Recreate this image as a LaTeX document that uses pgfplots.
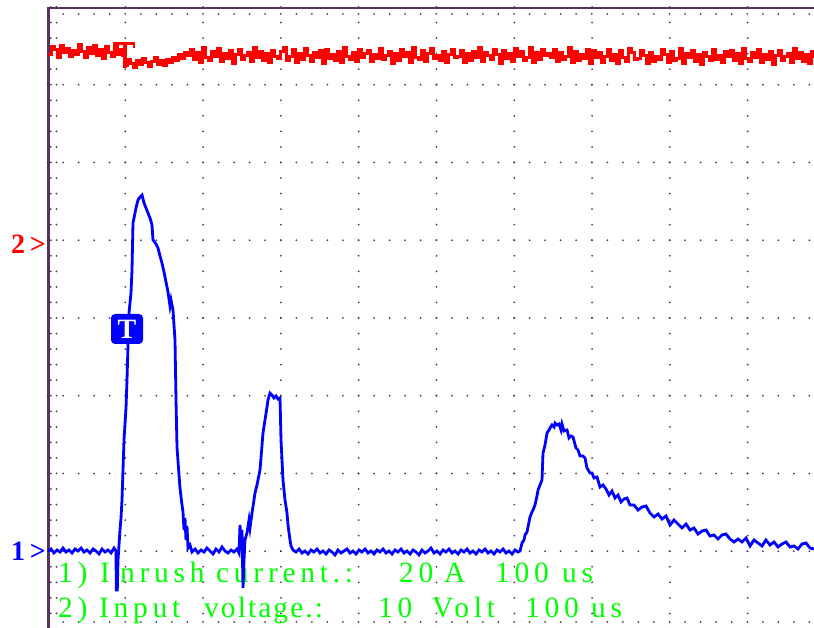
\documentclass[border=0pt]{standalone}
\usepackage{pgfplots}
\pgfplotsset{compat=1.18}
\usepackage{fontspec}
\setmainfont{Liberation Serif}
\newfontfamily\scopefont[LetterSpace=16]{Liberation Serif}
\newfontfamily\scopefontn[LetterSpace=7]{Liberation Serif}
\definecolor{grat}{RGB}{80,55,85}
\definecolor{frame}{RGB}{88,50,92}
\definecolor{scred}{RGB}{255,0,0}
\definecolor{scblue}{RGB}{0,0,255}
\definecolor{scgreen}{RGB}{0,255,0}
\begin{document}
\begin{tikzpicture}
\tikzset{dots/.style={grat, line width=2pt, line cap=round, dash pattern=on 0pt off 15.55pt}}
\begin{scope}[x=1pt, y=-1pt, shift={(-47.5pt,629pt)}]
  % graticule
  \foreach \k in {1,...,7} \draw[dots] (47.5,{7+77.75*\k}) -- (814,{7+77.75*\k});
  \foreach \k in {1,...,9} \draw[dots] ({47.5+77.8*\k},7) -- ({47.5+77.8*\k},629);
  \draw[dots] (50.8,7) -- (50.8,629);
  \draw[dots] (56.5,7) -- (56.5,629);
  \draw[dots] (47.5,14) -- (814,14);
  \draw[dots] (47.5,622) -- (814,622);
  \draw[frame, line width=3pt] (48.3,640) -- (48.3,6.7);
  \draw[frame, line width=2.3pt] (46.8,7.8) -- (830,7.8);
  % channel markers
  \node[anchor=base west, inner sep=0pt, text=scred, font=\fontsize{28}{32}\selectfont\bfseries] at (11,254) {2\,>};
  \node[anchor=base west, inner sep=0pt, text=scblue, font=\fontsize{28}{32}\selectfont\bfseries] at (11,561) {1\,>};
  % green text
  \begin{scope}[every node/.style={anchor=base west, inner sep=0pt, text=scgreen, font=\fontsize{29.5}{34}\scopefont}]
    \node at (58,582.5) {1)};
    \node at (100,582.5) {I};
    \node at (120,582.5) {nrush};
    \node at (216,582.5) {current.:};
    \node at (399,582.5) {20};
    \node at (444,582.5) {A};
    \node at (495,582.5) {100};
    \node at (562,582.5) {us};
    \node at (58,618) {2)};
    \node at (99,618) {Input};
    \node[font=\fontsize{29.5}{34}\scopefontn] at (204,618) {voltage.:};
    \node at (378,618) {10};
    \node at (432,618) {Volt};
    \node at (525,618) {100};
    \node at (591,618) {us};
  \end{scope}
\end{scope}
\begin{axis}[at={(0,0)}, anchor=south west, scale only axis, width=766.5pt, height=622pt,
  xmin=47.5, xmax=814, ymin=7, ymax=629, y dir=reverse, hide axis, clip=true]
\addplot[scred, line width=3pt, const plot, line join=miter] coordinates {
(48,55)(51,47)(54,50)(57,58)(60,46)(63,53)(66,49)(69,57)(72,51)(75,55)(78,45)(81,52)(84,58)(87,48)(90,54)(93,46)(96,56)(99,50)(102,59)(105,47)(108,53)(111,57)(114,45)(117,55)(120,50)(122,56)
(124,66)(127,60)(130,64)(133,68)(136,61)(139,65)(142,59)(145,63)(148,67)(151,62)(154,58)(157,65)(160,61)(163,66)(166,60)(169,63)(172,58)(175,61)(178,55)(181,59)(184,53)
(187,56)(190,50)(193,60)(196,53)(199,63)(202,48)(205,58)(208,61)(211,52)(214,57)(217,49)(220,62)(223,54)(226,59)(229,51)(232,64)(235,55)(238,50)(241,60)(244,56)(247,53)(250,62)(253,48)(256,58)(259,52)(262,61)(265,54)(268,63)(271,51)(274,57)
(277,59)(280,52)(283,48)(286,61)(289,57)(292,50)(295,63)(298,54)(301,60)(304,49)(307,56)(310,62)(313,53)(316,58)(319,51)(322,64)(325,50)(328,59)(331,55)(334,61)(337,52)(340,63)(343,48)(346,57)(349,60)(352,53)(355,62)(358,50)(361,58)(364,54)
(367,51)(370,62)(373,55)(376,59)(379,49)(382,60)(385,56)(388,52)(391,64)(394,54)(397,61)(400,50)(403,57)(406,53)(409,63)(412,48)(415,58)(418,60)(421,51)(424,62)(427,54)(430,49)(433,59)(436,56)(439,61)(442,52)(445,63)(448,55)(451,50)(454,58)
(457,57)(460,51)(463,63)(466,54)(469,61)(472,52)(475,58)(478,48)(481,62)(484,53)(487,56)(490,60)(493,50)(496,55)(499,64)(502,51)(505,59)(508,54)(511,62)(514,49)(517,57)(520,52)(523,61)(526,58)(529,48)(532,63)(535,53)(538,60)(541,50)(544,56)
(547,54)(550,58)(553,50)(556,62)(559,53)(562,60)(565,57)(568,48)(571,63)(574,52)(577,61)(580,55)(583,59)(586,50)(589,64)(592,51)(595,58)(598,53)(601,63)(604,57)(607,50)(610,61)(613,55)(616,64)(619,51)(622,58)(625,62)(628,49)(631,53)(634,60)
(637,59)(640,51)(643,56)(646,64)(649,53)(652,62)(655,57)(658,60)(661,50)(664,55)(667,63)(670,52)(673,61)(676,59)(679,49)(682,64)(685,54)(688,58)(691,51)(694,62)(697,55)(700,65)(703,53)(706,57)(709,61)(712,50)(715,60)(718,56)(721,63)(724,52)
(727,57)(730,51)(733,61)(736,54)(739,64)(742,49)(745,59)(748,62)(751,53)(754,58)(757,50)(760,63)(763,55)(766,60)(769,52)(772,65)(775,56)(778,51)(781,61)(784,57)(787,54)(790,63)(793,49)(796,59)(799,53)(802,62)(805,55)(808,64)(811,52)(814,58)
};
\addplot[scblue, line width=2.8pt] coordinates {
(48,551)(51,549)(54,553)(57,550)(60,552)(63,548)(66,552)(69,550)(72,553)(75,549)(78,551)(81,548)(84,552)(87,550)(90,553)(93,549)(96,551)(99,554)(102,549)(105,552)(108,550)(111,553)(114,548)(116,551)
(116.3,590)(117.3,590)(118,560)(120,530)(121,518)(122,500)(123,470)(124,440)(126,408)(127,380)(128,345)(129,313)(131,293)(132,270)(133,223)(135,213)(136,208)(138,200)(140,197)(142,195)(144,203)(146,208)(148,213)(150,218)(152,225)(153,240)(156,244)(158,248)(160,256)(162,263)(164,272)(166,282)(168,292)(170,306)(171,300)(173,310)(175,340)(176,400)(177,447)(179,475)(180,488)(182,505)(183,512)(184,530)(185,518)(186,540)(187,526)(188,548)(190,545)(192,552)
(195,549)(198,553)(201,550)(204,552)(207,548)(210,551)(213,554)(216,549)(219,552)(222,547)(225,551)(228,553)(231,550)(234,552)(237,549)(239,553)
(240,525)(241,545)(242,530)(243,588)(244,560)(245,540)(247,533)(249,520)(250,528)(252,513)(254,500)(255,493)(257,485)(258,480)(260,470)(261,458)(263,433)(265,420)(267,407)(268,400)(270,393)(272,395)(274,398)(276,396)(278,399)(280,398)(281,440)(283,480)(285,500)(287,513)(288,525)(290,540)(291,546)(293,550)
(296,552)(299,549)(302,553)(305,551)(308,554)(311,550)(314,552)(317,549)(320,553)(323,551)(326,554)(329,550)(332,552)(335,555)(338,550)(341,553)(344,551)(347,549)(350,553)(353,551)(356,554)(359,550)(362,552)(365,549)(368,553)(371,551)(374,554)(377,550)(380,552)(383,549)(386,553)(389,551)(392,554)(395,550)(398,552)(401,549)(404,553)(407,551)(410,554)(413,550)(416,552)(419,555)(422,550)(425,553)(428,551)(431,548)(434,553)(437,551)(440,554)(443,550)(446,552)(449,549)(452,553)(455,551)(458,554)(461,550)(464,552)(467,549)(470,553)(473,551)(476,554)(479,550)(482,552)(485,549)(488,553)(491,551)(494,554)(497,550)(500,552)(503,549)(506,553)(509,551)(512,554)(515,550)(518,552)
(520,551)(522,543)(524,540)(525,535)(527,532)(529,522)(530,517)(532,512)(533,510)(535,505)(537,496)(538,490)(540,485)(542,480)(543,453)(545,445)(547,433)(549,430)(550,428)(552,425)(554,427)(555,423)(557,425)(559,424)
(561,430)(562,424)(564,431)(567,430)(569,438)(571,436)(573,437)(576,448)(578,450)(580,456)(583,456)(585,458)(587,468)(590,473)(592,473)(594,478)(597,477)(600,487)(603,485)(606,489)(609,495)(612,491)(615,498)(618,495)(621,502)(624,499)(627,498)(630,505)(634,505)(638,510)(642,507)(646,506)(650,513)(654,517)(658,514)(662,519)(666,516)(670,525)(674,520)(678,524)(682,528)(686,524)(690,530)(694,528)(698,534)(702,531)(706,530)(710,536)(714,535)(718,539)(722,535)(726,534)(730,539)(734,542)(738,539)(742,542)(746,538)(750,546)(754,540)(758,543)(762,546)(766,540)(770,545)(774,542)(778,547)(782,544)(786,542)(790,547)(794,546)(798,549)(802,544)(806,543)(810,548)(814,549)
};
\end{axis}
\begin{scope}[x=1pt, y=-1pt, shift={(-47.5pt,629pt)}]
  % red trigger marker
  \draw[scred, line width=3pt] (113,43.5) -- (135,43.5);
  \draw[scred, line width=2pt] (114,43) -- (114,48);
  \draw[scred, line width=2pt] (134,43) -- (134,48);
  \draw[scred, line width=4.5pt] (125,43) -- (125,68);
  % blue trigger box
  \node[fill=scblue, rounded corners=4pt, minimum width=32pt, minimum height=30pt, inner sep=0pt,
        text=white, font=\fontsize{28}{30}\selectfont\bfseries] at (127,329) {T};
\end{scope}
\pgfresetboundingbox
\path[use as bounding box] (-47.5pt,1pt) rectangle (766.5pt,629pt);
\end{tikzpicture}
\end{document}
